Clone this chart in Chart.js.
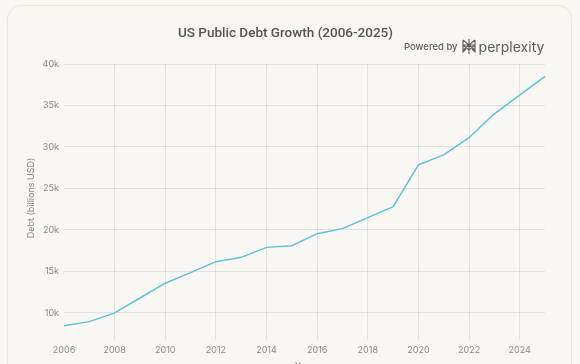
<!DOCTYPE html>
<html>
<head>
<meta charset="utf-8">
<script src="https://cdn.jsdelivr.net/npm/chart.js@4.4.1/dist/chart.umd.min.js"></script>
<style>
  html, body { margin: 0; padding: 0; background: #f8f7f3; overflow: hidden; }
  body { width: 580px; height: 364px; position: relative; font-family: Inter, "Open Sans", sans-serif; }
  #card { position: absolute; left: 7px; top: 5px; width: 565px; height: 420px; border: 1px solid #e9e7e2; border-radius: 14px; box-sizing: border-box; }
  #chart { position: absolute; left: 0; top: 0; }
  #wm { position: absolute; left: 404px; top: 38px; display: flex; align-items: center; color: #5f5f5f; white-space: nowrap; }
  #wm .pb { font-size: 9.5px; font-weight: 500; margin-right: 3px; }
  #wm .px { font-size: 14px; font-weight: 400; margin-left: 2px; }
</style>
</head>
<body>
<div id="card"></div>
<canvas id="chart" width="580" height="376"></canvas>
<div id="wm"><span class="pb">Powered by</span><svg width="16" height="17" viewBox="0 0 16 17" fill="none" stroke="#5f5f5f" stroke-width="1.1"><path d="M8 1v15M2 2l6 5 6-5M2 2v5h12V2M2 7l6 5 6-5M2 12l6-5M14 12l-6-5M2 7v7l3-3M14 7v7l-3-3"/></svg><span class="px">perplexity</span></div>
<script>
const years = ["2006","2007","2008","2009","2010","2011","2012","2013","2014","2015","2016","2017","2018","2019","2020","2021","2022","2023","2024","2025"];
const debtBillions = [8450, 8950, 10000, 11800, 13580, 14860, 16180, 16700, 17900, 18100, 19550, 20160, 21480, 22800, 27840, 29040, 31120, 34000, 36240, 38520];
const yTickValues = [10000, 15000, 20000, 25000, 30000, 35000, 40000];

const gridColor = 'rgba(0,0,0,0.085)';
const tickColor = '#8a8a8a';

new Chart(document.getElementById('chart'), {
  type: 'line',
  data: {
    labels: years,
    datasets: [{
      label: 'Debt (billions USD)',
      data: debtBillions,
      borderColor: '#5ec4d1',
      backgroundColor: '#5ec4d1',
      borderWidth: 1.5,
      pointRadius: 0,
      tension: 0,
      fill: false
    }]
  },
  options: {
    responsive: false,
    devicePixelRatio: 1,
    animation: false,
    layout: { padding: { left: 26, right: 35, top: 0, bottom: 0 } },
    plugins: {
      legend: { display: false },
      tooltip: { enabled: false },
      title: {
        display: true,
        text: 'US Public Debt Growth (2006-2025)',
        color: '#555555',
        font: { family: 'Roboto', size: 13.5, weight: '500', lineHeight: 1.2 },
        padding: { top: 25.5, bottom: 22.3 }
      }
    },
    scales: {
      x: {
        type: 'category',
        offset: false,
        border: { display: false },
        grid: {
          color: (ctx) => (ctx.index > 0 && ctx.index % 2 === 0) ? gridColor : 'rgba(0,0,0,0)',
          drawTicks: true,
          tickLength: 8,
          lineWidth: 1
        },
        ticks: {
          autoSkip: false,
          maxRotation: 0,
          minRotation: 0,
          padding: 5,
          color: tickColor,
          font: { family: 'Inter', size: 9 },
          callback: function (val, idx) { return idx % 2 === 0 ? years[idx] : ''; }
        },
        title: {
          display: true,
          text: 'Year',
          color: '#888888',
          font: { family: 'Inter', size: 9 },
          padding: { top: 4, bottom: 4 }
        },
        afterFit: (scale) => { scale.height = 44; }
      },
      y: {
        min: 7700,
        max: 40000,
        border: { display: false },
        grid: { color: gridColor, drawTicks: false, tickLength: 0, lineWidth: 1 },
        afterBuildTicks: (scale) => { scale.ticks = yTickValues.map(v => ({ value: v })); },
        ticks: {
          padding: 5,
          color: tickColor,
          font: { family: 'Inter', size: 9 },
          callback: (v) => (v / 1000) + 'k'
        },
        title: {
          display: true,
          text: 'Debt (billions USD)',
          color: '#888888',
          font: { family: 'Inter', size: 9 },
          padding: { top: 0, bottom: 4 }
        },
        afterFit: (scale) => { scale.width = 38; }
      }
    }
  }
});
</script>
</body>
</html>
